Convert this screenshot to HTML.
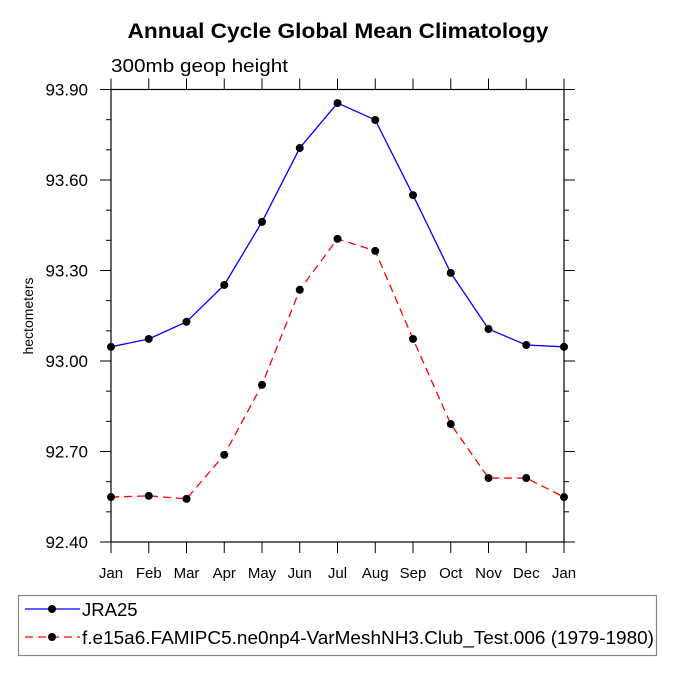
<!DOCTYPE html>
<html><head><meta charset="utf-8"><style>
body{margin:0;background:#fff;}
svg text{font-family:"Liberation Sans",Helvetica,sans-serif;fill:#000;}
</style></head><body>
<svg id="c" width="675" height="675" viewBox="0 0 675 675">
<text x="338" y="38" text-anchor="middle" font-size="21" font-weight="bold" textLength="421" lengthAdjust="spacingAndGlyphs">Annual Cycle Global Mean Climatology</text>
<text x="111" y="72" font-size="18" textLength="177" lengthAdjust="spacingAndGlyphs">300mb geop height</text>
<text transform="translate(33,316) rotate(-90)" text-anchor="middle" font-size="14">hectometers</text>
<g id="axes"></g>
<g id="series"></g>
<rect x="18.5" y="595.5" width="638" height="60" fill="none" stroke="#888" stroke-width="1.2"/>
<g>
<line x1="25" y1="609" x2="80" y2="609" stroke="#00f" stroke-width="1.3"/>
<circle cx="52" cy="609" r="4" fill="#000"/>
<text x="82" y="616" font-size="18.5">JRA25</text>
</g>
<g>
<line x1="25" y1="637" x2="80" y2="637" stroke="#f00" stroke-width="1.3" stroke-dasharray="8,5"/>
<circle cx="52" cy="637" r="4" fill="#000"/>
<text x="82" y="644" font-size="18.5" textLength="572" lengthAdjust="spacingAndGlyphs">f.e15a6.FAMIPC5.ne0np4-VarMeshNH3.Club_Test.006 (1979-1980)</text>
</g>
</svg>
<script>
const months = ["Jan","Feb","Mar","Apr","May","Jun","Jul","Aug","Sep","Oct","Nov","Dec","Jan"];
const jra25 = [93.047,93.073,93.13,93.252,93.461,93.706,93.855,93.799,93.55,93.292,93.106,93.053,93.047];
const model = [92.549,92.553,92.543,92.689,92.921,93.236,93.405,93.365,93.073,92.791,92.612,92.612,92.549];
const yTicks = ["92.40","92.70","93.00","93.30","93.60","93.90"];

const L=111,R=564,T=89.5,B=542,YMIN=92.4,YMAX=93.9;
const NS="http://www.w3.org/2000/svg";
function xs(i){return L+(R-L)*i/(months.length-1);}
function ys(v){return B-(v-YMIN)/(YMAX-YMIN)*(B-T);}
function mk(tag,attrs,parent){const e=document.createElementNS(NS,tag);for(const k in attrs)e.setAttribute(k,attrs[k]);parent.appendChild(e);return e;}
const ax=document.getElementById('axes');
const frame=mk('rect',{x:L,y:T,width:R-L,height:B-T,fill:'none',stroke:'#000','stroke-width':1.2},ax);


months.forEach((m,i)=>{
  const x=xs(i);
  mk('line',{x1:x,y1:B,x2:x,y2:B+11,stroke:'#000'},ax);
  mk('line',{x1:x,y1:T,x2:x,y2:T-11,stroke:'#000'},ax);
  const t=mk('text',{x:x,y:B+36,'text-anchor':'middle','font-size':15},ax);
  t.textContent=m;
  
  
});
yTicks.forEach((s,i)=>{
  const v=parseFloat(s),y=ys(v);
  mk('line',{x1:L-11,y1:y,x2:L,y2:y,stroke:'#000'},ax);
  mk('line',{x1:R,y1:y,x2:R+11,y2:y,stroke:'#000'},ax);
  const t=mk('text',{x:L-23,y:y+6,'text-anchor':'end','font-size':17},ax);
  t.textContent=s;
  
  
  if(i<yTicks.length-1){
    for(let k=1;k<3;k++){const ym=ys(v+0.1*k);
      mk('line',{x1:L-5,y1:ym,x2:L,y2:ym,stroke:'#000'},ax);
      mk('line',{x1:R,y1:ym,x2:R+5,y2:ym,stroke:'#000'},ax);}
  }
});
const sg=document.getElementById('series');
function draw(data,color,dash,name){
  const g=mk('g',{},sg);
  
  
  mk('polyline',{points:data.map((v,i)=>xs(i)+','+ys(v)).join(' '),fill:'none',stroke:color,'stroke-width':1.3,'stroke-dasharray':dash},g);
  data.forEach((v,i)=>{
    const c=mk('circle',{cx:xs(i),cy:ys(v),r:4,fill:'#000'},g);
    
    
  });
}
draw(jra25,'#00f','none','series-jra25');
draw(model,'#f00','8,5','series-model');
</script>
</body></html>
